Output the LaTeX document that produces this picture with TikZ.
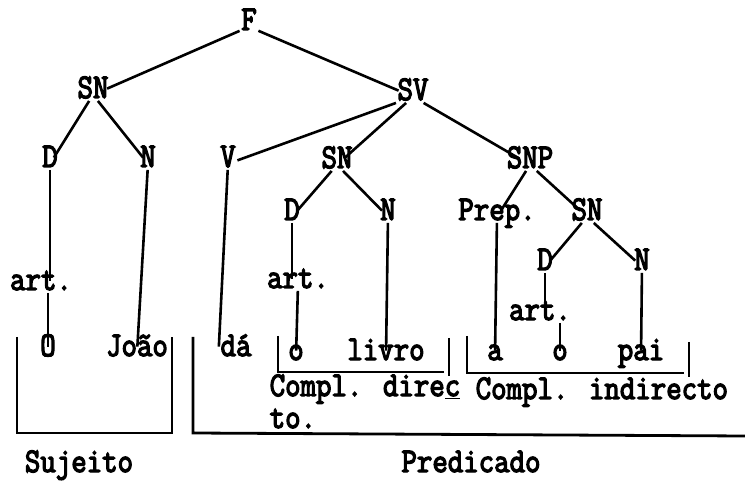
\documentclass[tikz,border=0pt]{standalone}
\usepackage{fontspec}
\usepackage{tikz}

\newfontfamily\typew[FakeBold=4]{Latin Modern Mono}

\begin{document}
\begin{tikzpicture}[
  x=1pt, y=-1pt,
  word/.style = {font=\fontsize{30}{34}\selectfont\typew, inner sep=1.5pt, anchor=base, yscale=1.15, text height=1.5ex, text depth=.2ex},
  edge/.style = {line width=2.6pt},
  brk/.style  = {line width=2.8pt}
]
  \useasboundingbox (0,0) rectangle (745,481);

  % Tree labels
  \node[word] (F)    at (249,30)  {F};
  \node[word] (SNs)  at (93,98)   {SN};
  \node[word] (SV)   at (413,100) {SV};
  \node[word] (Ds)   at (50,167)  {D};
  \node[word] (Ns)   at (148,167) {N};
  \node[word] (V)    at (228,167) {V};
  \node[word] (SNd)  at (337,168) {SN};
  \node[word] (SNP)  at (530,168) {SNP};
  \node[word] (Dd)   at (292,220) {D};
  \node[word] (Nd)   at (388,220) {N};
  \node[word] (Prep) at (497,220) {Prep.};
  \node[word] (SNi)  at (587,220) {SN};
  \node[word] (Di)   at (545,270) {D};
  \node[word] (Ni)   at (642,270) {N};
  \node[word] (arts) at (41,290)  {art.};
  \node[word] (artd) at (298,288) {art.};
  \node[word] (arti) at (540,320) {art.};

  % Words of the sentence
  \node[word] (wO)     at (48,356)  {O};
  \node[word] (wJoao)  at (137,356) {João};
  \node[word] (wda)    at (236,356) {dá};
  \node[word] (wo)     at (296,360) {o};
  \node[word] (wlivro) at (386,360) {livro};
  \node[word] (wa)     at (495,360) {a};
  \node[word] (wob)    at (560,360) {o};
  \node[word] (wpai)   at (641,360) {pai};

  % Branches
  \draw[edge] (F) -- (SNs);
  \draw[edge] (F) -- (SV);
  \draw[edge] (SNs) -- (Ds);
  \draw[edge] (SNs) -- (Ns);
  \draw[edge] (SV) -- (V);
  \draw[edge] (SV) -- (SNd);
  \draw[edge] (SV) -- (SNP);
  \draw[edge] (SNd) -- (Dd);
  \draw[edge] (SNd) -- (Nd);
  \draw[edge] (SNP) -- (Prep);
  \draw[edge] (SNP) -- (SNi);
  \draw[edge] (SNi) -- (Di);
  \draw[edge] (SNi) -- (Ni);

  % Stems down to the words
  \draw[edge] (Ds) -- (Ds |- arts.north);
  \draw[edge] (wO |- arts.south) -- (wO);
  \draw[edge] (Ns) -- (wJoao);
  \draw[edge] (V) -- (wda.north west);
  \draw[edge] (Dd) -- (Dd |- artd.north);
  \draw[edge] (artd) -- (wo);
  \draw[edge] (Nd) -- (wlivro);
  \draw[edge] (Prep) -- (wa);
  \draw[edge] (Di) -- (Di |- arti.north);
  \draw[edge] (wob |- arti.south) -- (wob);
  \draw[edge] (Ni) -- (wpai);

  % Brackets
  \draw[brk] (17,337) -- (17,433) -- (172,433) -- (172,337);
  \draw[brk] (193,337) -- (193,433) -- (745,436);
  \draw[brk] (278,336) -- (278,372) -- (444,372);
  \draw[brk] (449,338) -- (449,376);
  \draw[brk] (467,336) -- (467,373) -- (684,373);
  \draw[brk] (689,342) -- (689,377);

  % Functions
  \node[word, anchor=base west] (cdir)  at (268,396) {Compl. dire\underline{c}};
  \node[word, anchor=base west] (cdirb) at (268,428) {to.};
  \node[word, anchor=base west] (cind)  at (474,399) {Compl. indirecto};
  \node[word] (suj)  at (79,472)  {Sujeito};
  \node[word] (pred) at (471,472) {Predicado};

\end{tikzpicture}
\end{document}
